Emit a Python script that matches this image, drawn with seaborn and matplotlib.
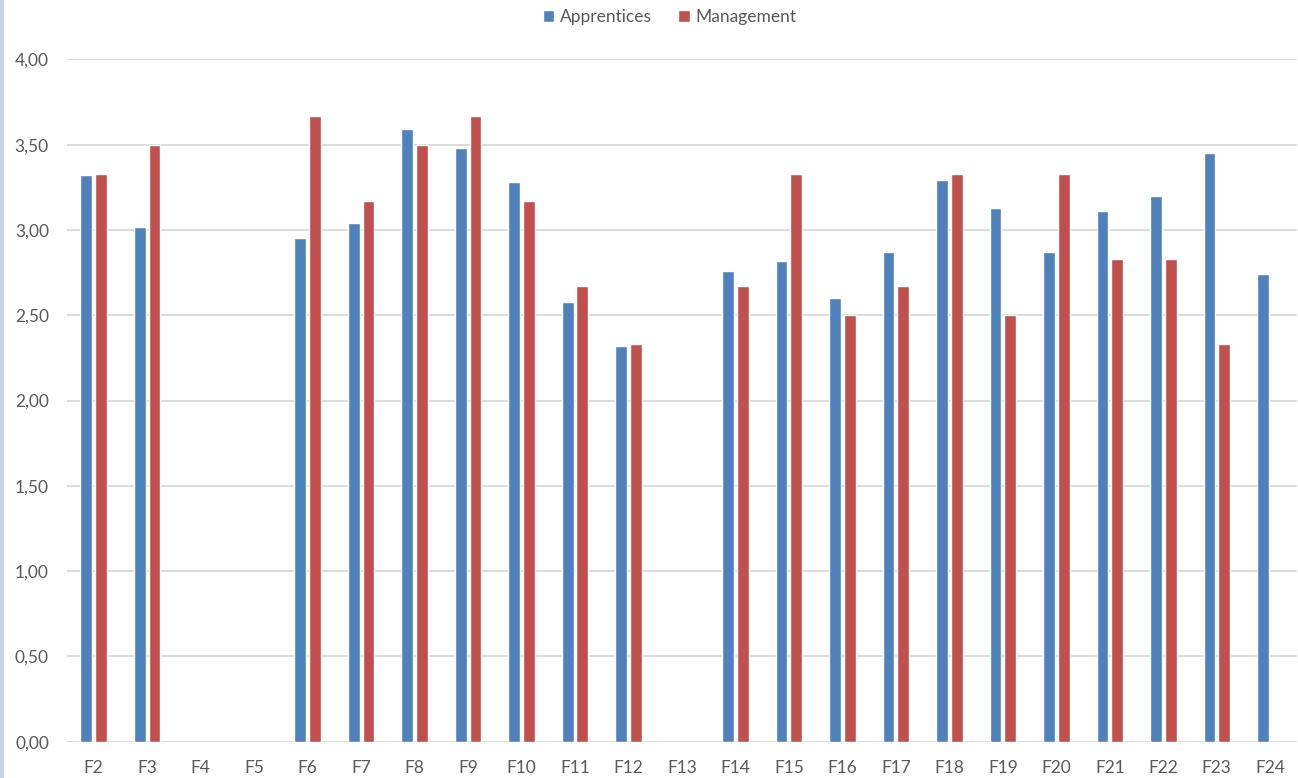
import matplotlib
matplotlib.use("Agg")
import matplotlib.pyplot as plt
from matplotlib.lines import Line2D
from matplotlib.ticker import FuncFormatter
import seaborn as sns
import pandas as pd
import numpy as np

# Datos
categorias = ["F2", "F3", "F4", "F5", "F6", "F7", "F8", "F9", "F10", "F11", "F12", "F13",
              "F14", "F15", "F16", "F17", "F18", "F19", "F20", "F21", "F22", "F23", "F24"]
apprentices = [3.32, 3.02, np.nan, np.nan, 2.95, 3.04, 3.59, 3.48, 3.28, 2.58, 2.32, np.nan,
               2.76, 2.82, 2.60, 2.87, 3.29, 3.13, 2.87, 3.11, 3.20, 3.45, 2.74]
management = [3.33, 3.50, np.nan, np.nan, 3.67, 3.17, 3.50, 3.67, 3.17, 2.67, 2.33, np.nan,
              2.67, 3.33, 2.50, 2.67, 3.33, 2.50, 3.33, 2.83, 2.83, 2.33, np.nan]
series = ["Apprentices", "Management"]
colores = ["#4F81BD", "#C0504D"]

df = pd.DataFrame({"Factor": categorias, "Apprentices": apprentices, "Management": management})
df_long = df.melt(id_vars="Factor", var_name="Grupo", value_name="Valor").dropna()

sns.set_style("white")
plt.rcParams["font.family"] = ["Lato", "DejaVu Sans"]

fig = plt.figure(figsize=(12.98, 7.78), dpi=100)
ax = fig.add_axes([0.0516, 0.0467, 0.9476, 0.877])

sns.barplot(data=df_long, x="Factor", y="Valor", hue="Grupo", order=categorias,
            hue_order=series, palette=colores, width=0.55, gap=0.2, errorbar=None,
            saturation=1, ax=ax)

ax.set_ylim(0, 4)
ax.set_xlim(-0.5, len(categorias) - 0.5)
ax.set_yticks(np.arange(0, 4.01, 0.5))
ax.yaxis.set_major_formatter(FuncFormatter(lambda v, p: f"{v:.2f}".replace(".", ",")))
ax.grid(axis="y", color="#D9D9D9", linewidth=1.3)
ax.set_axisbelow(True)
for s in ax.spines.values():
    s.set_visible(False)
ax.tick_params(axis="both", length=0, labelsize=12.5, colors="#595959")
ax.tick_params(axis="y", pad=13)
ax.tick_params(axis="x", pad=13)
ax.set_xlabel("")
ax.set_ylabel("")

leg = ax.legend(loc="center", bbox_to_anchor=(0.516, 0.978), bbox_transform=fig.transFigure,
                ncol=2, frameon=False, fontsize=12.5, handlelength=0.65, handleheight=0.65,
                handletextpad=0.35, columnspacing=1.5)
for t in leg.get_texts():
    t.set_color("#595959")

# borde izquierdo claro de la captura
fig.add_artist(Line2D([0.0015, 0.0015], [0, 1], transform=fig.transFigure,
                      color="#C9D3E1", linewidth=3))

fig.savefig("out.png", dpi=100)
